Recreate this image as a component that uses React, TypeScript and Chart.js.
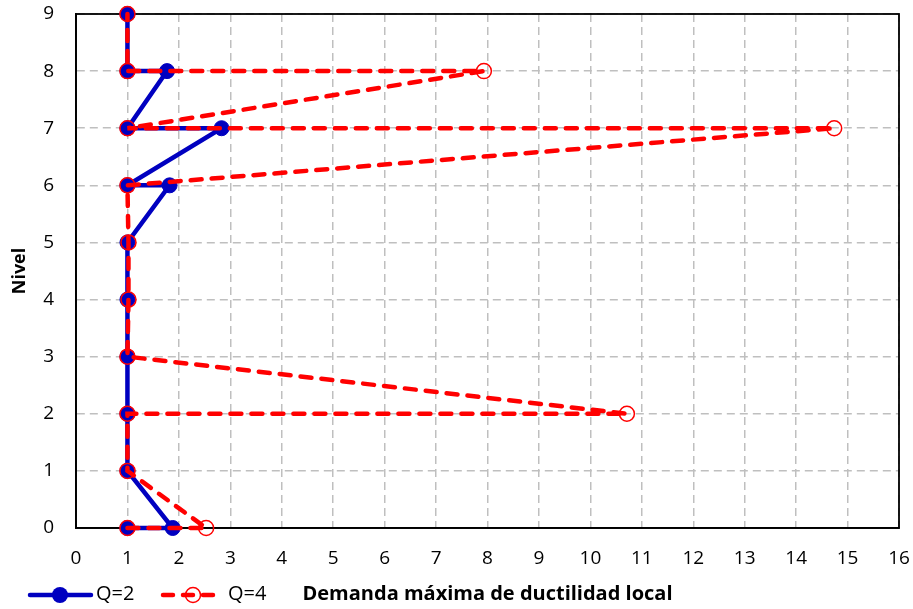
import React, { useEffect, useRef } from "react";
import { Chart, registerables } from "chart.js";

Chart.register(...registerables);

// Q=2 path (ductility, level) in drawing order
const q2X = [1, 1.88, 1, 1, 1, 1, 1, 1.82, 1, 2.83, 1, 1.77, 1, 1];
const q2Y = [0, 0, 1, 2, 3, 4, 5, 6, 6, 7, 7, 8, 8, 9];
// Q=4 path
const q4X = [1, 2.53, 1, 1, 10.71, 1, 1.02, 1.02, 1, 14.74, 1, 7.93, 1, 1];
const q4Y = [0, 0, 1, 2, 2, 3, 4, 5, 6, 7, 7, 8, 8, 9];

const xTicks = [0, 1, 2, 3, 4, 5, 6, 7, 8, 9, 10, 11, 12, 13, 14, 15, 16];
const yTicks = [0, 1, 2, 3, 4, 5, 6, 7, 8, 9];
const seriesNames = ["Q=2", "Q=4"];
const xTitle = "Demanda máxima de ductilidad local";
const yTitle = "Nivel";

const FONT = "'Open Sans', 'DejaVu Sans', sans-serif";
const BLUE = "#0000C0";
const RED = "#FF0000";

const boxPlugin = {
  id: "boxPlugin",
  beforeDatasetsDraw(chart: any) {
    const { ctx, chartArea } = chart;
    ctx.save();
    ctx.strokeStyle = "#000000";
    ctx.lineWidth = 1.8;
    ctx.strokeRect(chartArea.left, chartArea.top, chartArea.right - chartArea.left, chartArea.bottom - chartArea.top);
    ctx.restore();
  },
};

const legendPlugin = {
  id: "customLegend",
  afterDraw(chart: any) {
    const ctx = chart.ctx;
    const y = 595;
    ctx.save();
    // Q=2
    ctx.strokeStyle = BLUE;
    ctx.lineWidth = 4.5;
    ctx.setLineDash([]);
    ctx.lineCap = "round";
    ctx.beginPath();
    ctx.moveTo(30, y);
    ctx.lineTo(91, y);
    ctx.stroke();
    ctx.fillStyle = BLUE;
    ctx.beginPath();
    ctx.arc(60, y, 8, 0, Math.PI * 2);
    ctx.fill();
    // Q=4
    ctx.strokeStyle = RED;
    ctx.lineWidth = 4.5;
    ctx.setLineDash([10, 10]);
    ctx.lineCap = "round";
    ctx.beginPath();
    ctx.moveTo(163, y);
    ctx.lineTo(217, y);
    ctx.stroke();
    ctx.setLineDash([]);
    ctx.lineWidth = 1.5;
    ctx.beginPath();
    ctx.arc(193, y, 7.5, 0, Math.PI * 2);
    ctx.stroke();
    ctx.fillStyle = "#000000";
    ctx.font = `20px ${FONT}`;
    ctx.textBaseline = "middle";
    ctx.textAlign = "left";
    ctx.fillText(seriesNames[0], 96, y - 1);
    ctx.fillText(seriesNames[1], 228, y - 1);
    ctx.restore();
  },
};

export default function App() {
  const ref = useRef<HTMLCanvasElement | null>(null);
  useEffect(() => {
    if (!ref.current) return;
    const toPts = (xs: number[], ys: number[]) => xs.map((x, i) => ({ x, y: ys[i] }));
    const chart = new Chart(ref.current, {
      type: "scatter",
      data: {
        datasets: [
          {
            label: seriesNames[0],
            data: toPts(q2X, q2Y),
            showLine: true,
            borderColor: BLUE,
            backgroundColor: BLUE,
            borderWidth: 4.5,
            pointRadius: 7.5,
            pointBackgroundColor: BLUE,
            pointBorderColor: BLUE,
            pointBorderWidth: 1,
            tension: 0,
            clip: false as any,
            order: 2,
          },
          {
            label: seriesNames[1],
            data: toPts(q4X, q4Y),
            showLine: true,
            borderColor: RED,
            backgroundColor: "rgba(0,0,0,0)",
            borderWidth: 4.5,
            borderDash: [11, 10],
            borderCapStyle: "round",
            pointRadius: 7.5,
            pointBackgroundColor: "rgba(0,0,0,0)",
            pointBorderColor: RED,
            pointBorderWidth: 1.5,
            tension: 0,
            clip: false as any,
            order: 1,
          },
        ],
      },
      options: {
        responsive: false,
        animation: false,
        layout: { padding: { top: 14, right: 14, left: 0, bottom: 0 } },
        plugins: {
          legend: { display: false },
          tooltip: { enabled: false },
        },
        scales: {
          x: {
            type: "linear",
            min: 0,
            max: 16,
            afterBuildTicks: (s: any) => {
              s.ticks = xTicks.map((v) => ({ value: v }));
            },
            afterFit: (s: any) => {
              s.height = 81;
              s.paddingLeft = 0;
              s.paddingRight = 0;
            },
            ticks: {
              padding: 19,
              color: "#000",
              font: { family: FONT, size: 19 },
              maxRotation: 0,
            },
            grid: {
              color: "#BFBFBF",
              lineWidth: 1.5,
              drawTicks: false,
            },
            border: { display: true, color: "#000", width: 1.8, dash: [8, 5] } as any,
            title: {
              display: true,
              text: xTitle,
              color: "#000",
              font: { family: FONT, size: 20, weight: "bold" },
              padding: { top: 0, bottom: 3 },
            },
          },
          y: {
            type: "linear",
            min: 0,
            max: 9,
            afterBuildTicks: (s: any) => {
              s.ticks = yTicks.map((v) => ({ value: v }));
            },
            afterFit: (s: any) => {
              s.width = 76;
              s.paddingTop = 0;
              s.paddingBottom = 0;
            },
            ticks: {
              padding: 22,
              color: "#000",
              font: { family: FONT, size: 19 },
            },
            grid: {
              color: "#BFBFBF",
              lineWidth: 1.5,
              drawTicks: false,
            },
            border: { display: true, color: "#000", width: 1.8, dash: [8, 5] } as any,
            title: {
              display: true,
              text: yTitle,
              color: "#000",
              font: { family: FONT, size: 18, weight: "bold" },
              padding: { top: 9, bottom: 0 },
            },
          },
        },
      },
      plugins: [boxPlugin, legendPlugin],
    });
    return () => chart.destroy();
  }, []);
  return (
    <div style={{ position: "absolute", left: 0, top: 0, width: 913, height: 609, background: "#fff" }}>
      <canvas ref={ref} width={913} height={609} style={{ width: 913, height: 609, display: "block" }} />
    </div>
  );
}
